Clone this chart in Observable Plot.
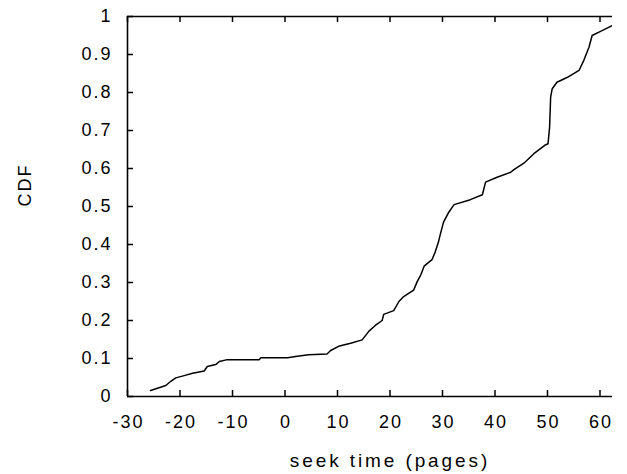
<!DOCTYPE html>
<html>
<head>
<meta charset="utf-8">
<script src="https://cdn.jsdelivr.net/npm/d3@7"></script>
<script src="https://cdn.jsdelivr.net/npm/@observablehq/plot@0.6"></script>
<style>
  html, body { margin: 0; padding: 0; background: #fff; }
  #wrap { width: 612px; height: 474px; overflow: hidden; background: #fff; }
  #wrap svg { max-width: none !important; }
  #wrap svg text { letter-spacing: 2px; }
  #wrap svg .xlab text { letter-spacing: 2.9px; }
</style>
</head>
<body>
<div id="wrap"></div>
<script>
// seek time (pages) and CDF values
const seekTime = [-25.6, -24.0, -22.7, -21.75, -20.8, -19.2, -17.6, -15.4, -14.8, -13.2, -12.5, -11.0,
  -4.9, -4.6, 0.5, 2.0, 4.5, 8.0, 8.7, 10.2, 12.5, 14.7, 16.0, 17.2, 18.5, 18.8, 20.7, 21.7, 22.6,
  24.5, 25.2, 25.8, 26.5, 28.0, 28.6, 29.2, 29.6, 30.2, 31.2, 32.2, 35.3, 37.6, 38.2, 40.4, 43.0,
  43.6, 45.5, 47.4, 49.6, 50.1, 50.4, 50.6, 50.9, 51.8, 53.8, 56.0, 56.9, 57.9, 58.5, 60.1, 62.3];
const cdf = [0.016, 0.023, 0.029, 0.040, 0.049, 0.055, 0.061, 0.067, 0.079, 0.084, 0.092, 0.097,
  0.097, 0.102, 0.102, 0.105, 0.110, 0.112, 0.121, 0.132, 0.140, 0.149, 0.172, 0.187, 0.200, 0.216,
  0.226, 0.250, 0.263, 0.280, 0.303, 0.318, 0.343, 0.360, 0.380, 0.405, 0.428, 0.459, 0.485, 0.505,
  0.518, 0.531, 0.564, 0.577, 0.590, 0.597, 0.614, 0.639, 0.662, 0.665, 0.709, 0.788, 0.810, 0.827,
  0.840, 0.858, 0.884, 0.919, 0.950, 0.961, 0.976];
const xTicks = [-30, -20, -10, 0, 10, 20, 30, 40, 50, 60];
const yTicks = [0, 0.1, 0.2, 0.3, 0.4, 0.5, 0.6, 0.7, 0.8, 0.9, 1];
const xLabel = "seek time (pages)";
const yLabel = "CDF";

const points = seekTime.map((x, i) => ({x, y: cdf[i]}));

const W = 652, H = 474, ML = 127, MR = 0, MT = 16, MB = 78;
const frameW = W - ML - MR, frameH = H - MT - MB;
const tick = 6;
const ink = "#000";

const chart = Plot.plot({
  width: W, height: H,
  marginLeft: ML, marginRight: MR, marginTop: MT, marginBottom: MB,
  x: {domain: [-30, 70], axis: null},
  y: {domain: [0, 1], axis: null},
  style: {fontFamily: "'Liberation Sans', Arial, Helvetica, sans-serif", fontSize: "18px", background: "#fff", color: ink},
  marks: [
    // frame (top, bottom, left)
    Plot.ruleY([0, 1], {stroke: ink, strokeWidth: 1.6}),
    Plot.ruleX([-30], {stroke: ink, strokeWidth: 1.6}),
    // inward ticks
    Plot.tickX(xTicks, {x: d => d, insetTop: frameH - tick, stroke: ink, strokeWidth: 1.5}),
    Plot.tickX(xTicks, {x: d => d, insetBottom: frameH - tick, stroke: ink, strokeWidth: 1.5}),
    Plot.tickY(yTicks, {y: d => d, insetRight: frameW - tick, stroke: ink, strokeWidth: 1.5}),
    // tick labels
    Plot.text(xTicks, {x: d => d, frameAnchor: "bottom", dx: 1, dy: 26, lineAnchor: "middle", text: d => String(d), fill: ink}),
    Plot.text(yTicks, {y: d => d, frameAnchor: "left", dx: -15, textAnchor: "end", lineAnchor: "middle", text: d => String(d), fill: ink}),
    // axis labels
    Plot.text([xLabel], {frameAnchor: "bottom", dy: 64, lineAnchor: "middle", text: d => d, fontSize: 19, fill: ink, className: "xlab"}),
    Plot.text([yLabel], {frameAnchor: "left", dx: -102, rotate: -90, lineAnchor: "middle", text: d => d, fill: ink}),
    // CDF curve
    Plot.line(points, {x: "x", y: "y", stroke: ink, strokeWidth: 1.5})
  ]
});
document.getElementById("wrap").appendChild(chart);
</script>
</body>
</html>
